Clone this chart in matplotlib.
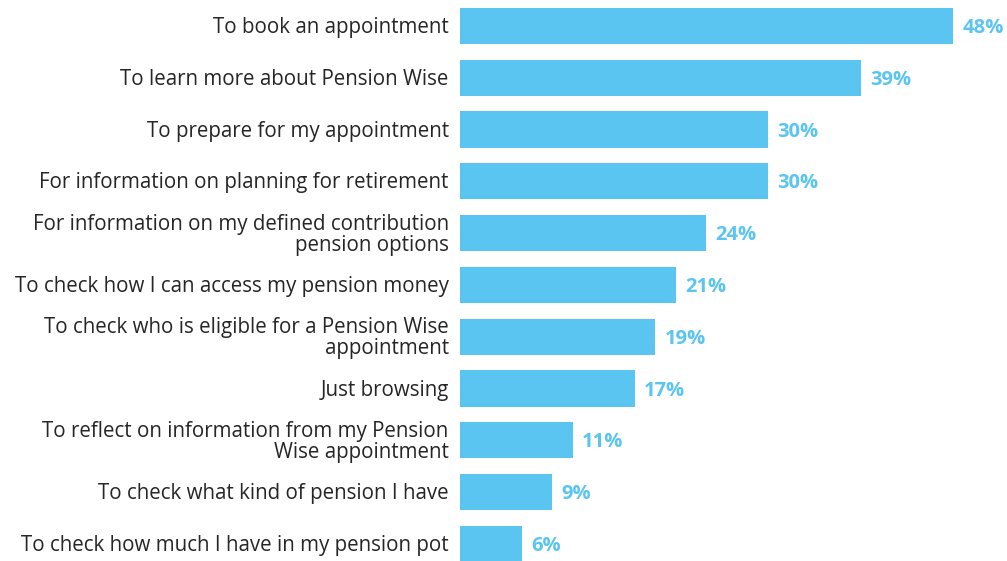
import matplotlib
matplotlib.use("Agg")
import matplotlib.pyplot as plt

categories = [
    "To book an appointment",
    "To learn more about Pension Wise",
    "To prepare for my appointment",
    "For information on planning for retirement",
    "For information on my defined contribution\npension options",
    "To check how I can access my pension money",
    "To check who is eligible for a Pension Wise\nappointment",
    "Just browsing",
    "To reflect on information from my Pension\nWise appointment",
    "To check what kind of pension I have",
    "To check how much I have in my pension pot",
]
values = [48, 39, 30, 30, 24, 21, 19, 17, 11, 9, 6]

BLUE = "#5BC5F2"
plt.rcParams["font.family"] = ["Open Sans", "DejaVu Sans"]

fig = plt.figure(figsize=(10.07, 5.61), dpi=100)
ax = fig.add_axes([460 / 1007, 0, 547 / 1007, 1])

y = list(range(len(values)))
ax.barh(y, values, height=0.7, color=BLUE)
ax.set_xlim(0, 547 / 10.27)
ax.set_ylim(10.33, -0.5)

for yi, v, lab in zip(y, values, categories):
    ax.text(v + 0.9, yi + 0.04, f"{v}%", va="center", ha="left",
            fontsize=14.5, fontweight="bold", color=BLUE)
    ax.text(-1.1, yi + 0.03, lab, va="center", ha="right", fontsize=14.8,
            color="#262626", linespacing=1.0)

ax.axis("off")
fig.savefig("out.png", dpi=100)
